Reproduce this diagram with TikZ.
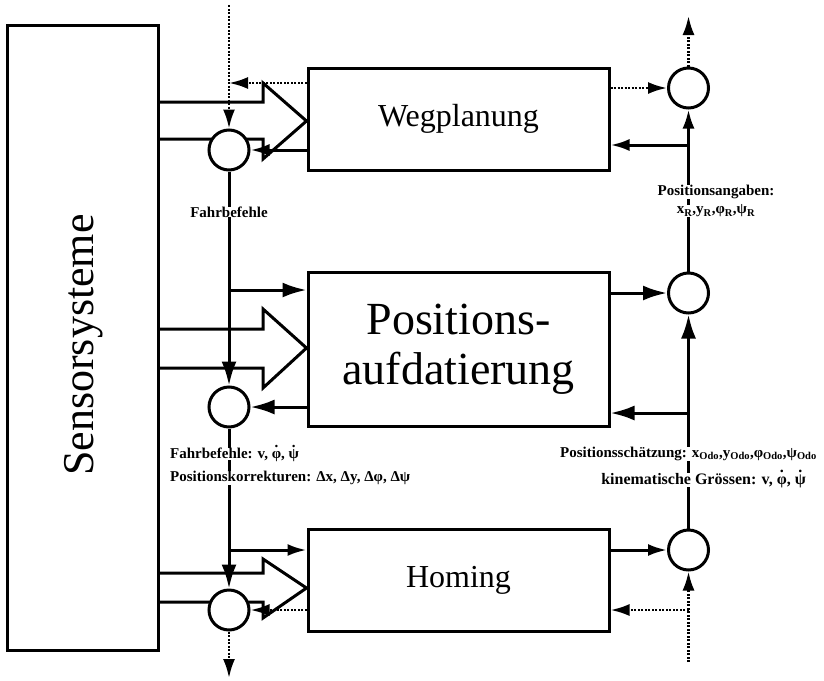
\documentclass[tikz,border=0pt]{standalone}
\usepackage{fontspec}
\setmainfont{Liberation Serif}
\usetikzlibrary{arrows.meta}
\newcommand\dotacc[1]{\ooalign{#1\cr\hidewidth\raisebox{0.72em}{.}\hidewidth\cr}}
\begin{document}
\begin{tikzpicture}[x=1pt,y=-1pt,
  blk/.style={draw, line width=3pt, rectangle, inner sep=0pt},
  sumc/.style={draw, circle, line width=3pt, fill=white, minimum size=40pt, inner sep=0pt},
  arr/.style={line width=3pt, -{Latex[length=19pt,width=12pt]}},
  barr/.style={line width=3pt, -{Latex[length=24pt,width=15pt]}},
  dotarr/.style={line width=2.5pt, dash pattern=on 2pt off 1.5pt, -{Latex[length=19pt,width=12pt]}},
  hollow/.style={line width=3pt, line join=miter},
  lbl/.style={font=\bfseries\fontsize{15}{17}\selectfont, fill=white, inner sep=0pt},
  bigtxt/.style={font=\fontsize{46}{50}\selectfont, align=center},
  midtxt/.style={font=\fontsize{32}{36}\selectfont},
]
\useasboundingbox (0,0) rectangle (824,680);
% boxes
\node[blk, minimum width=151pt, minimum height=625pt] (sens) at (82.5,337.5) {};
\node[rotate=90, font=\fontsize{44}{48}\selectfont] (senst) at (84,345) {Sensorsysteme};
\node[blk, minimum width=301pt, minimum height=102pt, midtxt] (weg) at (458.5,119) {Wegplanung};
\node[blk, minimum width=301pt, minimum height=154pt, bigtxt] (pos) at (458.5,349) {Positions-\\aufdatierung};
\node[blk, minimum width=301pt, minimum height=102pt, midtxt] (hom) at (458.5,580) {Homing};
% hollow arrows
\draw[hollow] (sens.east |- 0,102) -- (263,102) -- (263,83) -- (weg.west |- 0,121) -- (263,159) -- (263,139) -- (sens.east |- 0,139);
\draw[hollow] (sens.east |- 0,329) -- (263,329) -- (263,309) -- (pos.west |- 0,348) -- (263,388) -- (263,368) -- (sens.east |- 0,368);
\draw[hollow] (sens.east |- 0,573) -- (263,573) -- (263,559) -- (hom.west |- 0,588) -- (263,618) -- (263,602) -- (sens.east |- 0,602);
% circles
\node[sumc] (cw) at (229,150) {};
\node[sumc] (cp) at (229,407) {};
\node[sumc] (ch) at (229,610) {};
\node[sumc] (rw) at (688.5,88) {};
\node[sumc] (rp) at (688.5,293) {};
\node[sumc] (rh) at (688.5,550) {};
\coordinate (tin) at (229,5);
\coordinate (tout) at (688.5,16);
\coordinate (bout) at (229,678);
\coordinate (bin) at (688.5,662);
% left column
\draw[dotarr] (tin) -- (cw.north);
\draw[dotarr] (weg.west |- 0,83) -- (tin |- 0,83);
\draw[arr] (weg.west |- cw.east) -- (cw.east);
\draw[barr] (cw.south) -- (cp.north);
\draw[barr] (cw.south |- 0,290) -- (pos.west |- 0,290);
\draw[barr] (pos.west |- cp.east) -- (cp.east);
\draw[barr] (cp.south) -- (ch.north);
\draw[arr] (cp.south |- 0,550) -- (hom.west |- 0,550);
\draw[dotarr] (hom.west |- 0,610) -- (ch.east);
\draw[dotarr] (ch.south) -- (bout);
% right column
\draw[dotarr] (weg.east |- rw.west) -- (rw.west);
\draw[dotarr] (rw.north) -- (tout);
\draw[arr] (rp.north) -- (rw.south);
\draw[arr] (rp.north |- 0,145) -- (weg.east |- 0,145);
\draw[barr] (pos.east |- rp.west) -- (rp.west);
\draw[barr] (rh.north) -- (rp.south);
\draw[barr] (rh.north |- 0,413) -- (pos.east |- 0,413);
\draw[arr] (hom.east |- rh.west) -- (rh.west);
\draw[dotarr] (bin) -- (rh.south);
\draw[dotarr] (bin |- 0,610) -- (hom.east |- 0,610);
% labels
\node[lbl] (fb) at (229,212) {Fahrbefehle};
\node[lbl, anchor=west] (fb2) at (170,454) {Fahrbefehle: v, \dotacc{φ}, \dotacc{ψ}};
\node[lbl, anchor=west] (pk) at (170,478) {Positionskorrekturen: Δx, Δy, Δφ, Δψ};
\node[lbl, anchor=east] (ps) at (817,454) {Positionsschätzung: x\textsubscript{Odo},y\textsubscript{Odo},φ\textsubscript{Odo},ψ\textsubscript{Odo}};
\node[lbl, anchor=east, font=\bfseries\fontsize{16}{18}\selectfont] (kg) at (806,480) {kinematische Grössen: v, \dotacc{φ}, \dotacc{ψ}};
\node[lbl] (pa) at (716,192) {Positionsangaben:};
\node[lbl] (pr) at (716,211) {x\textsubscript{R},y\textsubscript{R},φ\textsubscript{R},ψ\textsubscript{R}};
\end{tikzpicture}
\end{document}
